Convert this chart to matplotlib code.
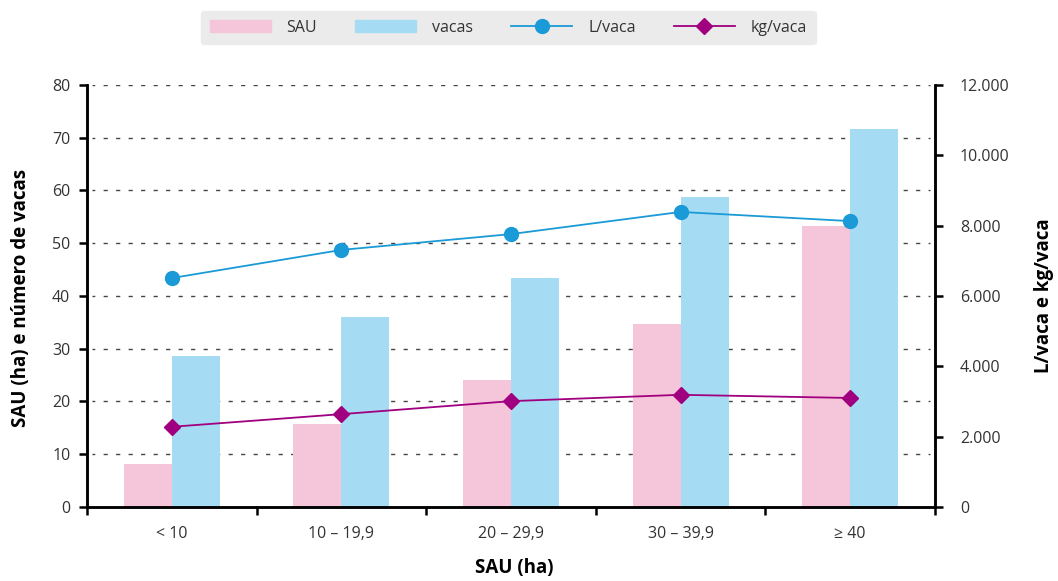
import matplotlib.pyplot as plt
import numpy as np
from matplotlib.ticker import FuncFormatter, FixedLocator
from matplotlib.lines import Line2D
from matplotlib.patches import Patch

plt.rcParams['font.family'] = ['Open Sans', 'DejaVu Sans']

categories = ['< 10', '10 – 19,9', '20 – 29,9', '30 – 39,9', '≥ 40']
sau = [8.1, 15.7, 24.0, 34.6, 53.2]
vacas = [28.7, 36.0, 43.5, 58.7, 71.6]
l_vaca = [6510, 7310, 7760, 8390, 8130]
kg_vaca = [2280, 2640, 3010, 3190, 3100]

c_sau = '#f5c6da'
c_vacas = '#a6dcf3'
c_l = '#1a9ad6'
c_kg = '#a0007f'
c_txt = '#333333'

W, H = 1058, 581
fig = plt.figure(figsize=(W / 100, H / 100), dpi=100)
ax = fig.add_axes([0.0822, 0.1274, 0.8015, 0.7263])
ax2 = ax.twinx()

x = np.arange(len(categories))
w = 0.283
ax.bar(x - w / 2, sau, w, color=c_sau, zorder=2)
ax.bar(x + w / 2, vacas, w, color=c_vacas, zorder=2)

ax.set_xlim(-0.5, 4.5)
ax.set_ylim(0, 80)
ax.set_yticks(range(0, 81, 10))
# dashed grid, stopping a little short of both spines
for yv in range(10, 81, 10):
    ax.axhline(yv, xmin=0.006, xmax=0.994, color='#444444', lw=1.0, ls=(1, (3, 6)), zorder=1)

ax2.plot(x, l_vaca, color=c_l, lw=1.3, marker='o', ms=10, zorder=3)
ax2.plot(x, kg_vaca, color=c_kg, lw=1.3, marker='D', ms=8, zorder=3)
ax2.set_ylim(0, 12000)
ax2.set_yticks(range(0, 12001, 2000))
ax2.yaxis.set_major_formatter(FuncFormatter(lambda v, p: f'{int(v):,}'.replace(',', '.')))

# x ticks at category boundaries, labels at centers
ax.xaxis.set_major_locator(FixedLocator(np.arange(-0.5, 4.6, 1.0)))
ax.xaxis.set_major_formatter(FuncFormatter(lambda v, p: ''))
ax.xaxis.set_minor_locator(FixedLocator(x))
ax.set_xticklabels(categories, minor=True)
ax.tick_params(axis='x', which='minor', length=0, pad=14, labelsize=11.5, labelcolor=c_txt)
ax.tick_params(axis='x', which='major', length=6, width=1.8, direction='out')

ax.tick_params(axis='y', length=6, width=1.8, direction='out', labelsize=11.5, labelcolor=c_txt, pad=6)
ax2.tick_params(axis='y', length=6, width=1.8, direction='out', labelsize=11.5, labelcolor=c_txt, pad=12)

for a in (ax, ax2):
    a.spines['top'].set_visible(False)
    for s in ('left', 'right', 'bottom'):
        a.spines[s].set_linewidth(1.8)

lab = dict(fontsize=13.5, fontweight='bold', color='black', ha='center', va='center')
fig.text(21 / W, 1 - 298 / H, 'SAU (ha) e número de vacas', rotation=90, **lab)
fig.text(1044 / W, 1 - 296 / H, 'L/vaca e kg/vaca', rotation=90, **lab)
fig.text(514 / W, 1 - 568 / H, 'SAU (ha)', **lab)

handles = [
    Patch(color=c_sau, label='SAU'),
    Patch(color=c_vacas, label='vacas'),
    Line2D([], [], color=c_l, lw=1.3, marker='o', ms=10, label='L/vaca'),
    Line2D([], [], color=c_kg, lw=1.3, marker='D', ms=8, label='kg/vaca'),
]
leg = fig.legend(handles=handles, loc='upper center', bbox_to_anchor=(0.4805, 0.995), ncol=4,
                 frameon=True, fancybox=True, fontsize=11.5, handlelength=3.8, handleheight=0.8,
                 columnspacing=2.4, handletextpad=1.0, borderpad=0.55, labelcolor=c_txt)
leg.get_frame().set_facecolor('#ebebeb')
leg.get_frame().set_edgecolor('#ebebeb')
leg.get_frame().set_alpha(1)

fig.savefig('out.png', dpi=100)
